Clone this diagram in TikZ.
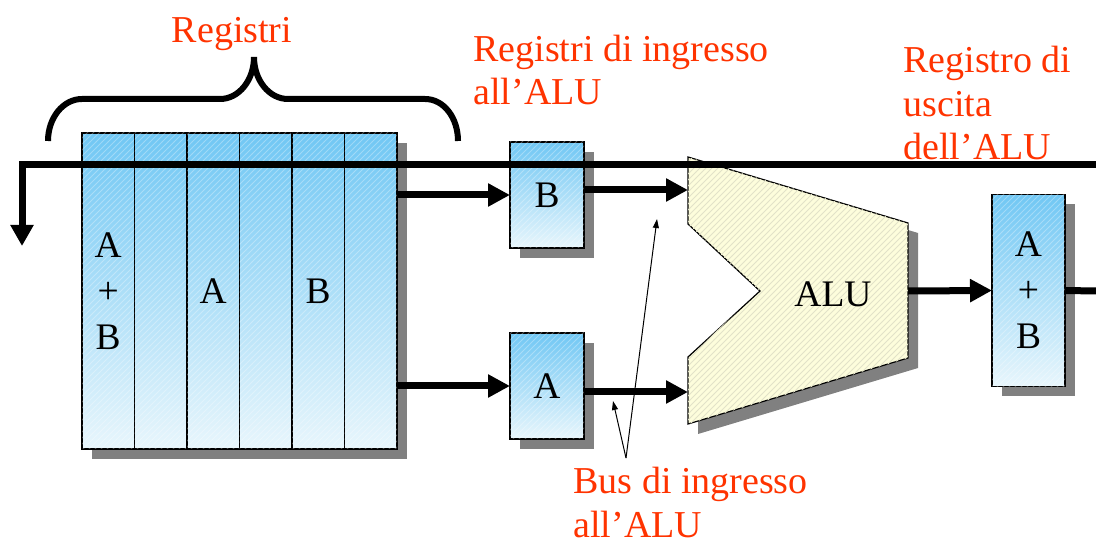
\documentclass[tikz,border=0pt]{standalone}
\usepackage{fontspec}
\setmainfont{Liberation Serif}
\usetikzlibrary{arrows.meta,positioning,shadows,patterns}
\definecolor{regtop}{RGB}{112,199,244}
\definecolor{regbot}{RGB}{232,246,252}
\definecolor{aluyel}{RGB}{253,253,220}
\definecolor{hatchyel}{RGB}{226,226,200}
\definecolor{shadowgray}{RGB}{128,128,128}
\definecolor{notered}{RGB}{255,51,0}
\tikzset{
    reg/.style = {draw, rectangle, line width=0.6pt, outer sep=0pt,
        inner sep=0pt, top color=regtop, bottom color=regbot,
        align=center, font=\fontsize{18.75}{23}\selectfont,
        drop shadow={shadow xshift=5pt, shadow yshift=-5pt,
            opacity=1, fill=shadowgray},
        postaction={pattern=north east lines, pattern color=white, opacity=0.3}},
    regcol/.style = {reg, minimum width=26.25pt, minimum height=158pt},
    alushape/.style = {draw, line width=0.6pt, fill=aluyel,
        drop shadow={shadow xshift=5pt, shadow yshift=-5pt,
            opacity=1, fill=shadowgray},
        postaction={pattern=north east lines, pattern color=hatchyel}},
    busline/.style = {draw, line width=3.5pt, -{Triangle[length=11pt,width=11pt]}},
    buswire/.style = {draw, line width=3.5pt},
    thinarrow/.style = {draw, line width=0.5pt, -{Triangle[length=4.5pt,width=3pt]}},
    note/.style = {text=notered, font=\fontsize{19}{21.75}\selectfont,
        align=left, inner sep=0pt},
    brace/.style = {draw, line width=3pt}
}

\begin{document}
\begin{tikzpicture}[x=0.5pt, y=-0.5pt]
        \useasboundingbox (0,0) rectangle (1096,544);
        % register file
        \node [regcol] (col1) at (108.25,291) {A\\+\\B};
        \node [regcol, right=0pt of col1] (col2) {};
        \node [regcol, right=0pt of col2] (col3) {A};
        \node [regcol, right=0pt of col3] (col4) {};
        \node [regcol, right=0pt of col4] (col5) {B};
        \node [regcol, right=0pt of col5] (col6) {};
        \draw [brace] (48,141) .. controls (48,118) and (63,99) .. (82,99) -- (220,99)
            .. controls (239,99) and (254,80) .. (254,57)
            .. controls (254,80) and (269,99) .. (288,99) -- (425,99)
            .. controls (444,99) and (458,118) .. (458,141);
        % ALU input registers
        \node [reg, minimum width=37pt, minimum height=53pt] (regB) at (547,195) {B};
        \node [reg, minimum width=37pt, minimum height=53pt] (regA) at (547,386) {A};
        % ALU
        \filldraw [alushape] (688,157) -- (908,223) -- (908,358) -- (688,424)
            -- (688,357) -- (760,291) -- (688,224) -- cycle;
        \node [font=\fontsize{18.75}{23}\selectfont] (alu) at (833,294) {ALU};
        \coordinate (aluB) at (688,190);
        \coordinate (aluA) at (688,392);
        \coordinate (aluO) at (908,291);
        % output register
        \node [reg, minimum width=36.5pt, minimum height=96pt] (regO) at (1028.5,290.5) {A\\+\\B};
        \coordinate (outR) at (1096,291);
        \draw [busline] (col6.east |- regB.west) -- (regB.west);
        \draw [busline] (col6.east |- regA.west) -- (regA.west);
        \draw [busline] (regB.east |- aluB) -- (aluB);
        \draw [busline] (regA.east |- aluA) -- (aluA);
        \draw [busline] (aluO) -- (regO.west);
        \draw [buswire] (regO.east) -- (outR);
        % bus
        \coordinate (busR) at (1096,165);
        \coordinate (busL) at (22,165);
        \coordinate (busD) at (22,246);
        \draw [line width=3.5pt, -{Triangle[length=10.5pt,width=11pt]}] (busR) -- (busL) -- (busD);
        % labels
        \coordinate (ptr) at (626,458);
        \coordinate (busA) at (613,401);
        \coordinate (busB) at (657,219);
        \draw [thinarrow] (ptr) -- (busA);
        \draw [thinarrow] (ptr) -- (busB);
        \node [note, anchor=base] (lblRegs) at (232,43) {Registri};
        \node [note, anchor=base west] (lblIn) at (473,105) {Registri di ingresso\\all'ALU};
        \node [note, anchor=base west] (lblOut) at (903,160) {Registro di\\uscita\\dell'ALU};
        \node [note, anchor=base west] (lblBus) at (573,537) {Bus di ingresso\\all'ALU};
\end{tikzpicture}
\end{document}
